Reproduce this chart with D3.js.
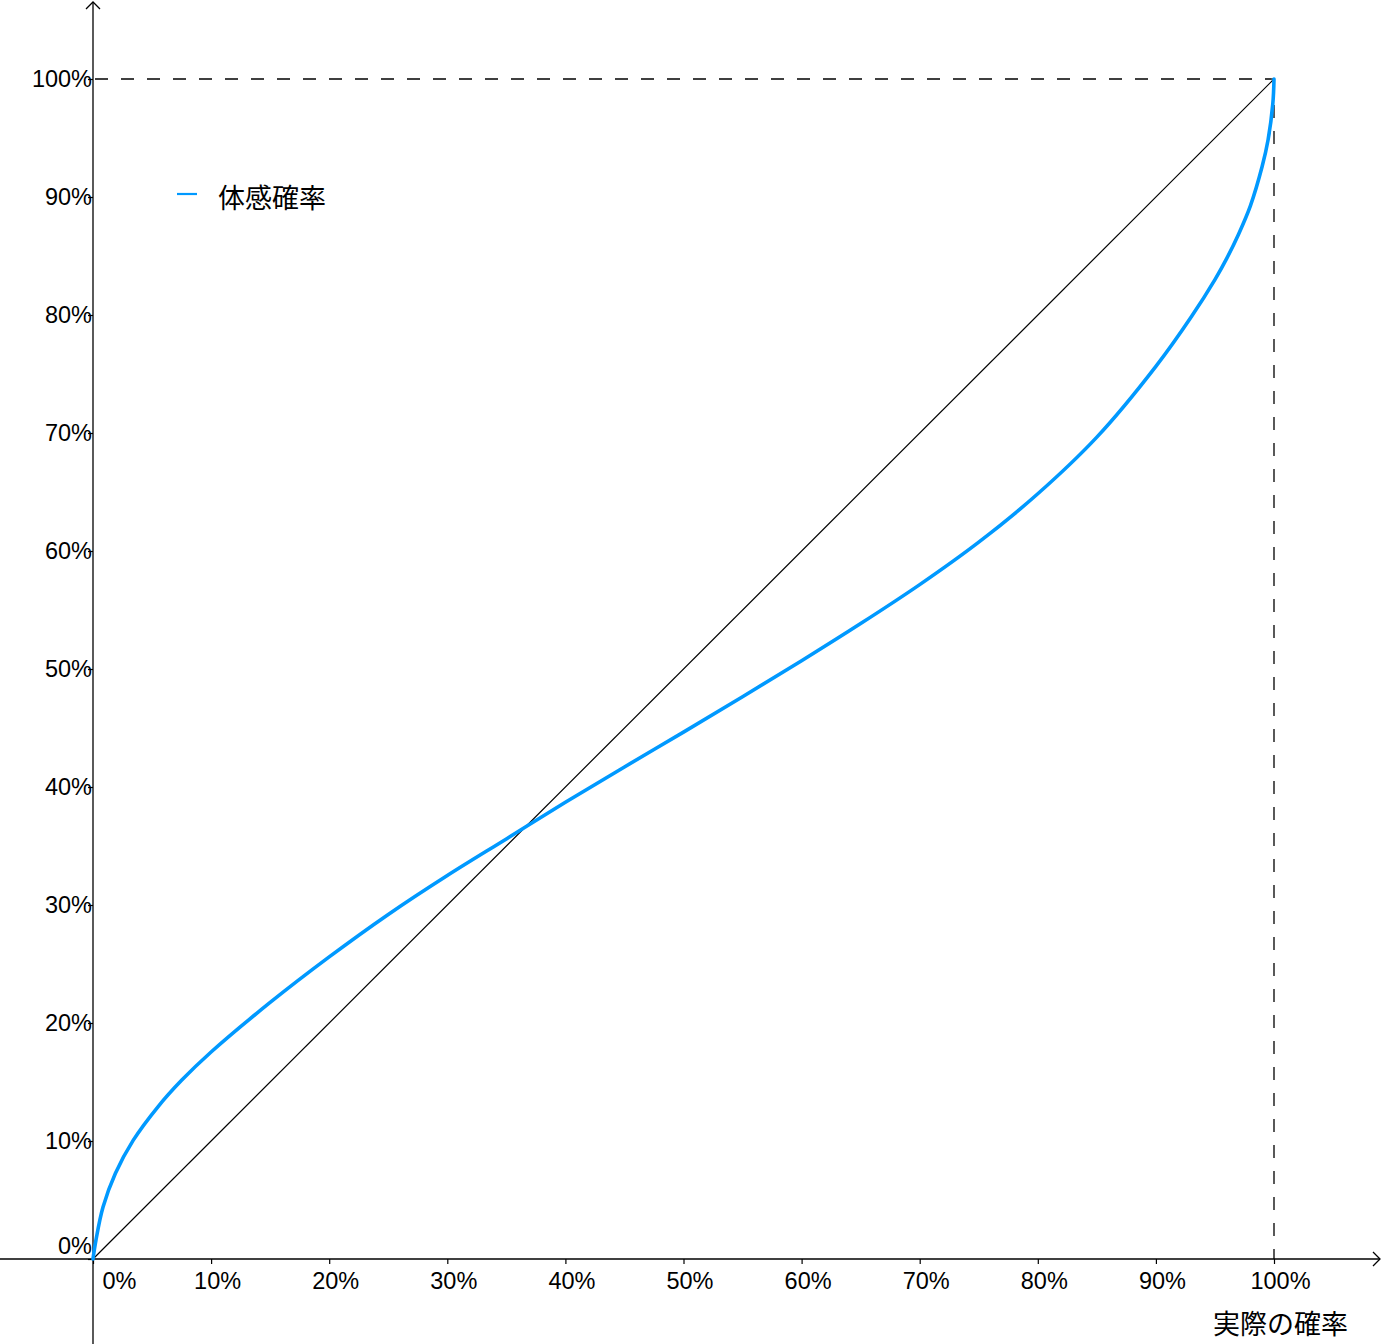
<!DOCTYPE html>
<html>
<head>
<meta charset="utf-8">
<script src="https://cdn.jsdelivr.net/npm/d3@7"></script>
<style>
  html, body { margin: 0; padding: 0; background: #fff; }
  svg { display: block; }
</style>
</head>
<body>
<svg id="chart" width="1382" height="1344"></svg>
<script>
// ---- data ----
const actualProb = [0, 0.0025, 0.0085, 0.019, 0.034, 0.055, 0.075, 0.1, 0.15, 0.2, 0.25, 0.3, 0.35, 0.4, 0.45, 0.5, 0.55, 0.6, 0.65, 0.7, 0.75, 0.8, 0.85, 0.9, 0.93, 0.95, 0.96, 0.97, 0.98, 0.99, 0.995, 0.999, 1];
const perceivedProb = [0, 0.016, 0.044, 0.0726, 0.1005, 0.129, 0.1514, 0.1754, 0.2174, 0.256, 0.292, 0.325, 0.356, 0.387, 0.417, 0.4465, 0.4765, 0.507, 0.5385, 0.5715, 0.6075, 0.6485, 0.6965, 0.7565, 0.7985, 0.830, 0.848, 0.8685, 0.8925, 0.926, 0.9485, 0.979, 1];
const diagonal = [[0, 0], [1, 1]];
const tickValues = [0, 0.1, 0.2, 0.3, 0.4, 0.5, 0.6, 0.7, 0.8, 0.9, 1];
const tickLabels = ["0%", "10%", "20%", "30%", "40%", "50%", "60%", "70%", "80%", "90%", "100%"];
const seriesName = "体感確率";
const xAxisTitle = "実際の確率";

// ---- drawing ----
const svg = d3.select("#chart");
const W = 1382, H = 1344;
const x = d3.scaleLinear().domain([0, 1]).range([93, 1274]);
const y = d3.scaleLinear().domain([0, 1]).range([1259, 79]);
const blue = "#0099ff";
const latin = "'Liberation Sans', Arial, sans-serif";
const cjk = "'Noto Sans CJK JP', 'Noto Sans CJK SC', sans-serif";

// dashed guide lines at 100%
svg.append("line")
  .attr("x1", x(0)).attr("x2", x(1)).attr("y1", y(1)).attr("y2", y(1))
  .attr("stroke", "#000").attr("stroke-width", 1.3).attr("stroke-dasharray", "13,13")
  .attr("stroke-dashoffset", -2);
svg.append("line")
  .attr("x1", x(1)).attr("x2", x(1)).attr("y1", y(1)).attr("y2", y(0))
  .attr("stroke", "#000").attr("stroke-width", 1.3).attr("stroke-dasharray", "13,13");

// x axis
const xAxis = d3.axisBottom(x).tickValues(tickValues)
  .tickFormat((d, i) => tickLabels[i]).tickSize(5).tickSizeOuter(0).tickPadding(8);
const gx = svg.append("g").attr("transform", `translate(0,${y(0)})`).call(xAxis);
gx.select(".domain").remove();
gx.selectAll(".tick line").attr("stroke", "#000").attr("stroke-width", 1.2);
gx.selectAll(".tick text")
  .attr("font-family", latin).attr("font-size", 23.5).attr("fill", "#000")
  .attr("dx", (d, i) => i === 0 ? 26 : 6);

// y axis
const yAxis = d3.axisLeft(y).tickValues(tickValues)
  .tickFormat((d, i) => tickLabels[i]).tickSize(5).tickSizeOuter(0).tickPadding(-4);
const gy = svg.append("g").attr("transform", `translate(${x(0)},0)`).call(yAxis);
gy.select(".domain").remove();
gy.selectAll(".tick line").attr("stroke", "#000").attr("stroke-width", 1.2);
gy.selectAll(".tick text")
  .attr("font-family", latin).attr("font-size", 23.5).attr("fill", "#000")
  .attr("y", (d, i) => i === 0 ? -13 : 0);

// axis lines with arrows
svg.append("line").attr("x1", 0).attr("x2", W - 2).attr("y1", y(0)).attr("y2", y(0))
  .attr("stroke", "#000").attr("stroke-width", 1.3);
svg.append("line").attr("x1", x(0)).attr("x2", x(0)).attr("y1", 2).attr("y2", H)
  .attr("stroke", "#000").attr("stroke-width", 1.3);
svg.append("path")
  .attr("d", `M${W - 9},${y(0) - 7}L${W - 2},${y(0)}L${W - 9},${y(0) + 7}`)
  .attr("fill", "none").attr("stroke", "#000").attr("stroke-width", 1.3);
svg.append("path")
  .attr("d", `M${x(0) - 7},9L${x(0)},2L${x(0) + 7},9`)
  .attr("fill", "none").attr("stroke", "#000").attr("stroke-width", 1.3);

// diagonal reference line
svg.append("path")
  .attr("d", d3.line().x(d => x(d[0])).y(d => y(d[1]))(diagonal))
  .attr("fill", "none").attr("stroke", "#000").attr("stroke-width", 1.2);

// perceived probability curve
const pts = actualProb.map((a, i) => [a, perceivedProb[i]]);
svg.append("path")
  .attr("d", d3.line().x(d => x(d[0])).y(d => y(d[1])).curve(d3.curveCatmullRom.alpha(0.5))(pts))
  .attr("fill", "none").attr("stroke", blue).attr("stroke-width", 3.6)
  .attr("stroke-linecap", "round").attr("stroke-linejoin", "round");

// legend
svg.append("line").attr("x1", 177).attr("x2", 197).attr("y1", 194).attr("y2", 194)
  .attr("stroke", blue).attr("stroke-width", 2.2);
svg.append("text").attr("x", 218).attr("y", 196)
  .attr("dominant-baseline", "central")
  .attr("font-family", cjk).attr("font-size", 27).attr("fill", "#000")
  .text(seriesName);

// x axis title
svg.append("text").attr("x", 1213).attr("y", 1322)
  .attr("dominant-baseline", "central")
  .attr("font-family", cjk).attr("font-size", 27).attr("fill", "#000")
  .text(xAxisTitle);
</script>
</body>
</html>
